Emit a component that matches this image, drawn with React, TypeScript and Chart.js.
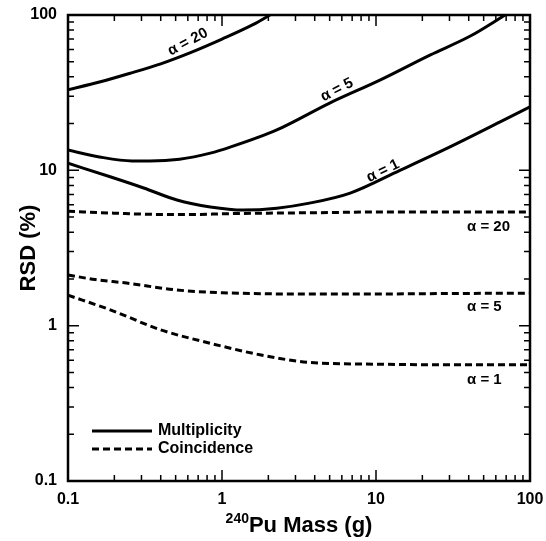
import React, { useEffect, useRef } from 'react';
import { Chart, registerables } from 'chart.js';

Chart.register(...registerables);

const FONT = '"Liberation Sans", Arial, Helvetica, sans-serif';

// ---- Data ----
const multA20X = [0.1, 0.16, 0.25, 0.4, 0.63, 1, 1.6, 2.05];
const multA20Y = [33, 37, 42, 48.5, 57.5, 70, 87, 100];

const multA5X = [0.1, 0.16, 0.26, 0.34, 0.53, 0.84, 1.13, 2.27, 5, 10.6, 22.4, 41, 69];
const multA5Y = [13.5, 12.2, 11.5, 11.5, 11.8, 12.9, 14.1, 18.2, 27.1, 38.1, 55.2, 73.2, 100];

const multA1X = [0.1, 0.19, 0.31, 0.51, 0.84, 1.37, 2.27, 3.7, 6.8, 14.3, 30, 64, 100];
const multA1Y = [11.1, 9.06, 7.7, 6.44, 5.81, 5.55, 5.71, 6.15, 7.14, 10.0, 14.1, 20.5, 25.6];

const coinA20X = [0.1, 0.2, 0.4, 0.7, 1, 2, 5, 10, 30, 100];
const coinA20Y = [5.45, 5.3, 5.2, 5.2, 5.25, 5.3, 5.35, 5.4, 5.4, 5.4];

const coinA5X = [0.1, 0.15, 0.24, 0.5, 1, 3, 10, 30, 100];
const coinA5Y = [2.12, 1.98, 1.88, 1.7, 1.63, 1.6, 1.6, 1.61, 1.62];

const coinA1X = [0.1, 0.19, 0.4, 0.84, 1.76, 3.7, 10, 30, 100];
const coinA1Y = [1.57, 1.26, 0.94, 0.77, 0.65, 0.58, 0.565, 0.56, 0.56];

const seriesNames = ['Multiplicity', 'Coincidence'];
const alphaLabels = ['α = 20', 'α = 5', 'α = 1'];
const majorTickLabels = [0.1, 1, 10, 100];
const xTitleSup = '240';
const xTitleMain = 'Pu Mass (g)';
const yTitle = 'RSD (%)';

const toPts = (xs: number[], ys: number[]) => xs.map((x, i) => ({ x, y: ys[i] }));

// label anchors (data coordinates) and angles
const curveLabelAnchors = [
  { text: alphaLabels[0], x: 0.6, y: 67, angle: -28, align: 'center' },
  { text: alphaLabels[1], x: 5.58, y: 32.9, angle: -27, align: 'center' },
  { text: alphaLabels[2], x: 11.1, y: 9.9, angle: -26, align: 'center' },
  { text: alphaLabels[0], x: 39, y: 4.3, angle: 0, align: 'left' },
  { text: alphaLabels[1], x: 39, y: 1.32, angle: 0, align: 'left' },
  { text: alphaLabels[2], x: 39, y: 0.447, angle: 0, align: 'left' },
];

const DASH = [7, 4];

const decorPlugin = {
  id: 'decor',
  afterDraw(chart: any) {
    const { ctx, chartArea, scales } = chart;
    const xs = scales.x;
    const ys = scales.y;
    const { left, right, top, bottom } = chartArea;
    ctx.save();
    ctx.strokeStyle = '#000';
    ctx.fillStyle = '#000';

    // inward ticks on all four sides
    ctx.lineWidth = 1.5;
    ctx.beginPath();
    for (let e = -1; e <= 2; e++) {
      for (let m = 1; m <= 9; m++) {
        const v = m * Math.pow(10, e);
        if (v > 100.0001) break;
        const len = m === 1 ? 11 : 6;
        const xp = xs.getPixelForValue(v);
        const yp = ys.getPixelForValue(v);
        ctx.moveTo(xp, bottom);
        ctx.lineTo(xp, bottom - len);
        ctx.moveTo(xp, top);
        ctx.lineTo(xp, top + len);
        ctx.moveTo(left, yp);
        ctx.lineTo(left + len, yp);
        ctx.moveTo(right, yp);
        ctx.lineTo(right - len, yp);
      }
    }
    ctx.stroke();

    // frame
    ctx.lineWidth = 2.5;
    ctx.strokeRect(left, top, right - left, bottom - top);

    // curve labels
    ctx.font = `bold 15px ${FONT}`;
    ctx.textBaseline = 'middle';
    for (const a of curveLabelAnchors) {
      const px = xs.getPixelForValue(a.x);
      const py = ys.getPixelForValue(a.y);
      ctx.save();
      ctx.translate(px, py);
      ctx.rotate((a.angle * Math.PI) / 180);
      ctx.textAlign = a.align as CanvasTextAlign;
      ctx.fillText(a.text, 0, 0);
      ctx.restore();
    }

    // legend
    const lx0 = left + 24;
    const lx1 = left + 84;
    const ly0 = bottom - 50;
    const ly1 = bottom - 32;
    ctx.lineWidth = 3;
    ctx.setLineDash([]);
    ctx.beginPath();
    ctx.moveTo(lx0, ly0);
    ctx.lineTo(lx1, ly0);
    ctx.stroke();
    ctx.setLineDash(DASH);
    ctx.beginPath();
    ctx.moveTo(lx0, ly1);
    ctx.lineTo(lx1, ly1);
    ctx.stroke();
    ctx.setLineDash([]);
    ctx.font = `bold 16px ${FONT}`;
    ctx.textAlign = 'left';
    ctx.fillText(seriesNames[0], lx1 + 6, ly0);
    ctx.fillText(seriesNames[1], lx1 + 6, ly1);

    // x title with superscript
    ctx.textBaseline = 'alphabetic';
    ctx.font = `bold 14px ${FONT}`;
    const w1 = ctx.measureText(xTitleSup).width;
    ctx.font = `bold 22px ${FONT}`;
    const w2 = ctx.measureText(xTitleMain).width;
    const cx = (left + right) / 2;
    const start = cx - (w1 + w2) / 2;
    const base = bottom + 51;
    ctx.font = `bold 14px ${FONT}`;
    ctx.fillText(xTitleSup, start, base - 9);
    ctx.font = `bold 22px ${FONT}`;
    ctx.fillText(xTitleMain, start + w1, base);

    ctx.restore();
  },
};

function isMajor(v: number) {
  return majorTickLabels.some((m) => Math.abs(Math.log10(v) - Math.log10(m)) < 1e-6);
}
function fmt(v: number) {
  const m = majorTickLabels.find((mm) => Math.abs(Math.log10(v) - Math.log10(mm)) < 1e-6);
  return m === undefined ? '' : String(m);
}

function zeroPad(s: any) {
  s.paddingTop = 0;
  s.paddingBottom = 0;
  s.paddingLeft = 0;
  s.paddingRight = 0;
}

export default function App() {
  const ref = useRef<HTMLCanvasElement | null>(null);
  useEffect(() => {
    if (!ref.current) return;
    const solid = { borderColor: '#000', borderWidth: 3, pointRadius: 0, fill: false, cubicInterpolationMode: 'monotone' as const };
    const dashed = { ...solid, borderDash: DASH };
    const chart = new Chart(ref.current, {
      type: 'line',
      data: {
        datasets: [
          { label: `${seriesNames[0]} ${alphaLabels[0]}`, data: toPts(multA20X, multA20Y), ...solid },
          { label: `${seriesNames[0]} ${alphaLabels[1]}`, data: toPts(multA5X, multA5Y), ...solid },
          { label: `${seriesNames[0]} ${alphaLabels[2]}`, data: toPts(multA1X, multA1Y), ...solid },
          { label: `${seriesNames[1]} ${alphaLabels[0]}`, data: toPts(coinA20X, coinA20Y), ...dashed },
          { label: `${seriesNames[1]} ${alphaLabels[1]}`, data: toPts(coinA5X, coinA5Y), ...dashed },
          { label: `${seriesNames[1]} ${alphaLabels[2]}`, data: toPts(coinA1X, coinA1Y), ...dashed },
        ] as any,
      },
      options: {
        animation: false,
        responsive: false,
        maintainAspectRatio: false,
        layout: { padding: { left: 0, right: 16, top: 15, bottom: 0 } },
        plugins: { legend: { display: false }, tooltip: { enabled: false } },
        scales: {
          x: {
            type: 'logarithmic',
            min: 0.1,
            max: 100,
            grid: { display: false, drawTicks: false },
            border: { display: false },
            afterFit: (s: any) => { s.height = 60; zeroPad(s); },
            ticks: {
              autoSkip: false,
              maxRotation: 0,
              padding: 9,
              color: '#000',
              font: { family: FONT, size: 16, weight: 'bold' },
              callback: (v: any) => (isMajor(Number(v)) ? fmt(Number(v)) : ''),
            },
          },
          y: {
            type: 'logarithmic',
            min: 0.1,
            max: 100,
            grid: { display: false, drawTicks: false },
            border: { display: false },
            afterFit: (s: any) => { s.width = 68; zeroPad(s); },
            title: {
              display: true,
              text: yTitle,
              color: '#000',
              font: { family: FONT, size: 22, weight: 'bold' },
              padding: { top: 16, bottom: 0 },
            },
            ticks: {
              autoSkip: false,
              padding: 11,
              color: '#000',
              font: { family: FONT, size: 16, weight: 'bold' },
              callback: (v: any) => (isMajor(Number(v)) ? fmt(Number(v)) : ''),
            },
          },
        },
      } as any,
      plugins: [decorPlugin],
    });
    return () => chart.destroy();
  }, []);
  return (
    <div style={{ position: 'absolute', left: 0, top: 0, width: 546, height: 541, background: '#fff' }}>
      <canvas ref={ref} width={546} height={541} style={{ width: 546, height: 541 }} />
    </div>
  );
}
